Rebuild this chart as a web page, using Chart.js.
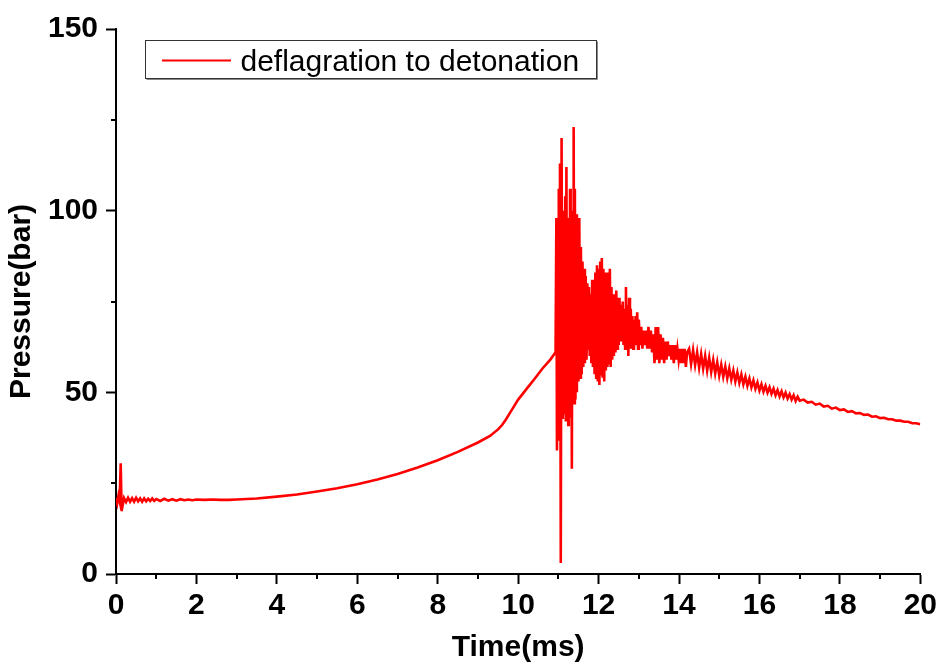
<!DOCTYPE html>
<html>
<head>
<meta charset="utf-8">
<script src="https://cdn.jsdelivr.net/npm/chart.js@4.4.0/dist/chart.umd.min.js"></script>
<style>
html,body{margin:0;padding:0;background:#ffffff;}
#wrap{width:944px;height:666px;position:relative;}
</style>
</head>
<body>
<div id="wrap"><canvas id="c" width="944" height="666"></canvas></div>
<script>
// ---- texts ----
const seriesLabel = 'deflagration to detonation';
const xTitle = 'Time(ms)';
const yTitle = 'Pressure(bar)';

// ---- ticks ----
const xMajorTicks = [0, 2, 4, 6, 8, 10, 12, 14, 16, 18, 20];
const xMinorTicks = [1, 3, 5, 7, 9, 11, 13, 15, 17, 19];
const yMajorTicks = [0, 50, 100, 150];
const yMinorTicks = [25, 75, 125];

// ---- data (time in ms, pressure in bar) ----
const startTimes = [0.00, 0.03, 0.06, 0.09, 0.117, 0.14, 0.17, 0.20, 0.25, 0.30, 0.35, 0.40, 0.45, 0.50, 0.55, 0.60, 0.65, 0.70, 0.75, 0.80, 0.85, 0.90, 0.95, 1.00, 1.10, 1.20, 1.30, 1.40, 1.50, 1.60, 1.70, 1.80, 1.90, 2.00, 2.20, 2.40, 2.60];
const startPressures = [21.0, 19.5, 21.5, 20.0, 30.5, 17.3, 19.2, 20.9, 19.8, 21.0, 19.9, 20.9, 19.9, 21.0, 20.0, 20.8, 19.9, 20.8, 20.0, 20.7, 20.1, 20.8, 20.1, 20.6, 20.1, 20.7, 20.2, 20.6, 20.2, 20.6, 20.3, 20.5, 20.3, 20.5, 20.4, 20.5, 20.4];

const riseTimes = [2.8, 3.0, 3.5, 4.0, 4.5, 5.0, 5.5, 6.0, 6.5, 7.0, 7.5, 8.0, 8.5, 9.0, 9.3, 9.5, 9.6, 9.7, 9.8, 9.9, 10.0, 10.2, 10.4, 10.6, 10.8, 10.93];
const risePressures = [20.4, 20.5, 20.8, 21.3, 21.9, 22.7, 23.6, 24.7, 26.0, 27.5, 29.3, 31.3, 33.6, 36.2, 38.0, 39.8, 41.0, 42.6, 44.4, 46.2, 48.0, 50.8, 53.6, 56.5, 59.0, 61.0];

const burstTimes = [10.95, 10.965, 10.98, 10.995, 11.01, 11.025, 11.04, 11.06, 11.08, 11.095, 11.11, 11.125, 11.14, 11.155, 11.17, 11.185, 11.20, 11.215, 11.23, 11.245, 11.26, 11.275, 11.29, 11.305, 11.32, 11.335, 11.35, 11.365, 11.38, 11.395, 11.41, 11.425, 11.44,
  11.46, 11.48, 11.50, 11.52, 11.54, 11.56, 11.58, 11.60, 11.62, 11.64, 11.66, 11.68, 11.70, 11.72, 11.74, 11.76, 11.78, 11.80, 11.82, 11.84, 11.86, 11.88, 11.90, 11.92, 11.94, 11.96, 11.98,
  12.00, 12.02, 12.04, 12.06, 12.08, 12.10, 12.12, 12.14, 12.16, 12.18, 12.20, 12.22, 12.24, 12.26, 12.28, 12.30, 12.32, 12.34, 12.36, 12.38, 12.40, 12.42, 12.44, 12.46, 12.48,
  12.50, 12.52, 12.54, 12.56, 12.58, 12.60, 12.62, 12.64, 12.66, 12.68, 12.70, 12.72, 12.74, 12.76, 12.78, 12.80, 12.82, 12.84, 12.86, 12.88, 12.90, 12.92, 12.94, 12.96, 12.98,
  13.00, 13.03, 13.06, 13.09, 13.12, 13.15, 13.18, 13.21, 13.24, 13.27, 13.30, 13.33, 13.36, 13.39, 13.42, 13.45, 13.48, 13.51, 13.54, 13.57, 13.60, 13.63, 13.66, 13.69, 13.72,
  13.75, 13.78, 13.81, 13.84, 13.87, 13.90, 13.93, 13.96, 13.99, 14.02, 14.05, 14.08, 14.11, 14.14, 14.17, 14.20];
const burstPressures = [98, 34, 95, 42, 106, 37, 113, 3, 120, 43, 100, 44, 96, 48, 104, 42, 112, 46, 98, 41, 92, 45, 106, 43, 100, 29, 93, 49, 123, 47, 106, 48, 99,
  50, 97, 53, 98, 54, 90, 55, 86, 57, 84, 58, 82, 59, 80, 62, 79, 60, 77, 58, 81, 57, 80, 55, 83, 54, 85, 53,
  84, 52, 86, 55, 87, 54, 84, 53, 83, 56, 82, 57, 83, 58, 84, 57, 79, 59, 77, 60, 76, 61, 78, 62, 76,
  63, 76, 64, 74, 64, 75, 63, 73, 62, 79, 62, 74, 60, 76, 62, 73, 62, 71, 62, 70, 63, 71, 63, 72, 62,
  70, 63, 68, 62, 67, 63, 67, 62, 68, 62, 67, 61, 66, 58, 68, 59, 68, 58, 66, 59, 65, 58, 64, 59, 64,
  60, 63, 59, 63, 58, 63, 59, 62, 59, 62, 58, 62, 58, 62, 57, 61];

const decayTimes = [14.25, 14.30, 14.35, 14.40, 14.45, 14.50, 14.55, 14.60, 14.65, 14.70, 14.75, 14.80, 14.85, 14.90, 14.95,
  15.00, 15.05, 15.10, 15.15, 15.20, 15.25, 15.30, 15.35, 15.40, 15.45, 15.50, 15.55, 15.60, 15.65, 15.70, 15.75, 15.80, 15.85, 15.90, 15.95,
  16.00, 16.05, 16.10, 16.15, 16.20, 16.25, 16.30, 16.35, 16.40, 16.45, 16.50, 16.55, 16.60, 16.65, 16.70, 16.75, 16.80, 16.85, 16.90, 16.95,
  17.00, 17.10, 17.20, 17.30, 17.40, 17.50, 17.60, 17.70, 17.80, 17.90, 18.00, 18.10, 18.20, 18.30, 18.40, 18.50, 18.60, 18.70, 18.80, 18.90,
  19.00, 19.10, 19.20, 19.30, 19.40, 19.50, 19.60, 19.70, 19.80, 19.90, 20.00];
const decayPressures = [62.0, 57.8, 61.6, 57.5, 61.0, 56.8, 60.5, 56.5, 60.0, 56.0, 59.5, 55.6, 58.9, 55.2, 58.3,
  54.6, 57.6, 54.3, 57.1, 53.9, 56.6, 53.5, 56.0, 53.0, 55.5, 52.6, 54.9, 52.2, 54.3, 51.8, 53.8, 51.4, 53.3, 51.0, 52.7,
  50.5, 52.2, 50.2, 51.8, 49.9, 51.4, 49.6, 51.0, 49.2, 50.6, 48.9, 50.3, 48.6, 49.9, 48.3, 49.5, 48.0, 49.2, 47.6, 48.8,
  47.7, 48.0, 47.2, 47.4, 46.6, 46.9, 46.1, 46.3, 45.5, 45.8, 45.1, 45.3, 44.6, 44.8, 44.2, 44.3, 43.8, 43.9, 43.3, 43.4,
  42.9, 43.0, 42.6, 42.6, 42.2, 42.2, 41.9, 41.9, 41.5, 41.5, 41.2];

const timeMs = [].concat(startTimes, riseTimes, burstTimes, decayTimes);
const pressureBar = [].concat(startPressures, risePressures, burstPressures, decayPressures);
const points = timeMs.map((t, i) => ({ x: t, y: pressureBar[i] }));

const FONT = "'Liberation Sans', Arial, Helvetica, sans-serif";
Chart.defaults.font.family = FONT;
Chart.defaults.color = '#000000';

const decor = {
  id: 'decor',
  afterDraw(chart) {
    const { ctx, chartArea: a, scales: { x, y } } = chart;
    ctx.save();
    ctx.strokeStyle = '#000000';
    ctx.lineWidth = 2;
    ctx.beginPath();
    xMinorTicks.forEach(v => {
      const px = Math.round(x.getPixelForValue(v));
      ctx.moveTo(px, a.bottom);
      ctx.lineTo(px, a.bottom + 5);
    });
    yMinorTicks.forEach(v => {
      const py = Math.round(y.getPixelForValue(v));
      ctx.moveTo(a.left - 5, py);
      ctx.lineTo(a.left, py);
    });
    ctx.stroke();

    // legend box
    const bx = a.left + 29.5, by = a.top + 11.5, bw = 451, bh = 38;
    ctx.fillStyle = '#ffffff';
    ctx.fillRect(bx, by, bw, bh);
    ctx.strokeStyle = '#888888';
    ctx.lineWidth = 1;
    ctx.beginPath();
    ctx.moveTo(bx + 1, by + bh + 1);
    ctx.lineTo(bx + bw + 1, by + bh + 1);
    ctx.lineTo(bx + bw + 1, by + 1);
    ctx.stroke();
    ctx.strokeStyle = '#333333';
    ctx.strokeRect(bx, by, bw, bh);
    const ds = chart.data.datasets[0];
    ctx.strokeStyle = ds.borderColor;
    ctx.lineWidth = 2;
    ctx.beginPath();
    ctx.moveTo(bx + 16.5, by + 20);
    ctx.lineTo(bx + 85.5, by + 20);
    ctx.stroke();
    ctx.fillStyle = '#000000';
    ctx.font = '30px ' + FONT;
    ctx.textBaseline = 'alphabetic';
    ctx.textAlign = 'left';
    ctx.fillText(ds.label, bx + 95, by + 30);
    ctx.restore();
  }
};

new Chart(document.getElementById('c'), {
  type: 'line',
  data: {
    datasets: [{
      label: seriesLabel,
      data: points,
      borderColor: '#ff0000',
      backgroundColor: '#ff0000',
      borderWidth: 2.6,
      pointRadius: 0,
      tension: 0,
      fill: false
    }]
  },
  options: {
    responsive: false,
    animation: false,
    devicePixelRatio: 1,
    layout: { padding: { top: 29, right: 21, left: 0, bottom: 0 } },
    plugins: { legend: { display: false }, tooltip: { enabled: false } },
    scales: {
      x: {
        type: 'linear',
        min: 0, max: 20,
        afterBuildTicks: s => { s.ticks = xMajorTicks.map(v => ({ value: v })); },
        afterFit: s => { s.height = 92; },
        border: { display: true, color: '#000000', width: 2 },
        grid: { display: true, drawOnChartArea: false, drawTicks: true, tickLength: 10, tickWidth: 2, tickColor: '#000000' },
        ticks: { padding: 7, maxRotation: 0, autoSkip: false, color: '#000000', font: { size: 30, weight: 'bold', lineHeight: 1 } },
        title: { display: true, text: xTitle, color: '#000000', font: { size: 30, weight: 'bold', lineHeight: 1 }, padding: { top: 0, bottom: 3 } }
      },
      y: {
        type: 'linear',
        min: 0, max: 150,
        afterBuildTicks: s => { s.ticks = yMajorTicks.map(v => ({ value: v })); },
        afterFit: s => { s.width = 116; },
        border: { display: true, color: '#000000', width: 2 },
        grid: { display: true, drawOnChartArea: false, drawTicks: true, tickLength: 10, tickWidth: 2, tickColor: '#000000' },
        ticks: { padding: 8, autoSkip: false, color: '#000000', font: { size: 30, weight: 'bold', lineHeight: 1 } },
        title: { display: true, text: yTitle, color: '#000000', font: { size: 30, weight: 'bold', lineHeight: 1 }, padding: { top: 7, bottom: 0 } }
      }
    }
  },
  plugins: [decor]
});
</script>
</body>
</html>
